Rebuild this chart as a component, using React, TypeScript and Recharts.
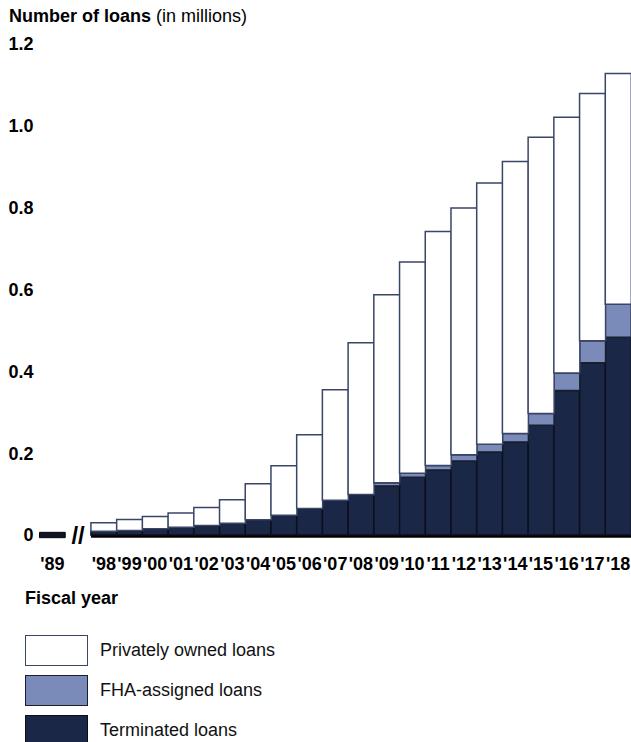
import React from "react";
import {
  BarChart,
  Bar,
  XAxis,
  YAxis,
  ReferenceArea,
} from "recharts";

// fiscal years; "brk" is the empty slot holding the axis break
const YEARS = [
  "'89", "brk", "'98", "'99", "'00", "'01", "'02", "'03", "'04", "'05", "'06",
  "'07", "'08", "'09", "'10", "'11", "'12", "'13", "'14", "'15", "'16", "'17", "'18",
];

// millions of loans
const TERMINATED = [
  0, null, 0.009, 0.011, 0.015, 0.019, 0.023, 0.029, 0.037, 0.048, 0.065,
  0.085, 0.097, 0.12, 0.141, 0.159, 0.181, 0.203, 0.227, 0.268, 0.353, 0.421, 0.483,
];
const FHA_ASSIGNED = [
  0, null, 0, 0, 0, 0, 0, 0, 0, 0, 0,
  0, 0.002, 0.008, 0.01, 0.011, 0.015, 0.019, 0.021, 0.029, 0.043, 0.054, 0.081,
];
const PRIVATE = [
  0, null, 0.021, 0.027, 0.03, 0.035, 0.044, 0.057, 0.088, 0.121, 0.18,
  0.27, 0.371, 0.459, 0.516, 0.572, 0.603, 0.638, 0.665, 0.675, 0.625, 0.604, 0.564,
];

const Y_TICKS = [0, 0.2, 0.4, 0.6, 0.8, 1.0, 1.2];

const PRIVATE_COLOR = "#ffffff";
const FHA_COLOR = "#7a8bba";
const TERM_COLOR = "#1a2747";

const data = YEARS.map((year, i) => ({
  year,
  terminated: TERMINATED[i],
  fha: FHA_ASSIGNED[i],
  privately: PRIVATE[i],
}));

const FONT = '"Liberation Sans", Arial, sans-serif';

const tickStyle = { fontSize: 18, fontWeight: "bold", fill: "#000" };

function LegendRow({
  top,
  fill,
  stroke,
  label,
}: {
  top: number;
  fill: string;
  stroke: string;
  label: string;
}) {
  return (
    <>
      <div
        style={{
          position: "absolute",
          left: 25,
          top,
          width: 61,
          height: 29,
          background: fill,
          border: `1.5px solid ${stroke}`,
        }}
      />
      <div
        style={{
          position: "absolute",
          left: 100,
          top: top + 5,
          fontSize: 18,
          color: "#111",
          whiteSpace: "nowrap",
        }}
      >
        {label}
      </div>
    </>
  );
}

export default function App() {
  return (
    <div
      style={{
        position: "absolute",
        left: 0,
        top: 0,
        width: 631,
        height: 742,
        overflow: "hidden",
        background: "#fff",
        fontFamily: FONT,
      }}
    >
      <div
        style={{
          position: "absolute",
          left: 9,
          top: 6,
          fontSize: 18,
          color: "#000",
          whiteSpace: "nowrap",
        }}
      >
        <b>Number of loans</b> (in millions)
      </div>

      <div style={{ position: "absolute", left: 0, top: 0 }}>
        <BarChart
          width={631}
          height={580}
          data={data}
          margin={{ top: 44, right: 0, bottom: 0, left: 0 }}
          barCategoryGap={0}
        >
          <XAxis
            dataKey="year"
            axisLine={false}
            tickLine={false}
            tickSize={0}
            tickMargin={22}
            height={45}
            interval={0}
            tick={tickStyle}
            tickFormatter={(v) => (v === "brk" ? "" : v)}
          />
          <YAxis
            domain={[0, 1.2]}
            ticks={Y_TICKS}
            axisLine={false}
            tickLine={false}
            tickSize={0}
            tickMargin={6}
            width={39.5}
            tick={tickStyle}
            tickFormatter={(v) => (v === 0 ? "0" : v.toFixed(1))}
          />
          <Bar
            dataKey="terminated"
            stackId="a"
            fill={TERM_COLOR}
            stroke="#0b0f1a"
            strokeWidth={1.5}
            isAnimationActive={false}
          />
          <Bar
            dataKey="fha"
            stackId="a"
            fill={FHA_COLOR}
            stroke="#1a1f2e"
            strokeWidth={1.5}
            isAnimationActive={false}
          />
          <Bar
            dataKey="privately"
            stackId="a"
            fill={PRIVATE_COLOR}
            stroke="#3a4666"
            strokeWidth={1.5}
            isAnimationActive={false}
          />
          {/* thick baseline, broken between '89 and '98 */}
          <ReferenceArea
            x1="'98"
            x2="'18"
            y1={-0.0065}
            y2={0.0065}
            fill="#000"
            fillOpacity={1}
            stroke="none"
            ifOverflow="visible"
          />
          <ReferenceArea
            x1="'89"
            x2="'89"
            y1={-0.0065}
            y2={0.0065}
            fill="#0d1424"
            fillOpacity={1}
            stroke="#000"
            strokeWidth={1}
            ifOverflow="visible"
          />
          <ReferenceArea
            x1="brk"
            x2="brk"
            y1={-0.02}
            y2={0.02}
            fill="#fff"
            fillOpacity={0}
            stroke="none"
            ifOverflow="visible"
            label={{
              value: "//",
              position: "center",
              fontSize: 24,
              fontWeight: "bold",
              fill: "#000",
            }}
          />
        </BarChart>
      </div>

      <div
        style={{
          position: "absolute",
          left: 25,
          top: 588,
          fontSize: 18,
          fontWeight: "bold",
          color: "#000",
          whiteSpace: "nowrap",
        }}
      >
        Fiscal year
      </div>

      <LegendRow top={635} fill={PRIVATE_COLOR} stroke="#3a4666" label="Privately owned loans" />
      <LegendRow top={675} fill={FHA_COLOR} stroke="#1a1f2e" label="FHA-assigned loans" />
      <LegendRow top={715} fill={TERM_COLOR} stroke="#0b0f1a" label="Terminated loans" />
    </div>
  );
}
